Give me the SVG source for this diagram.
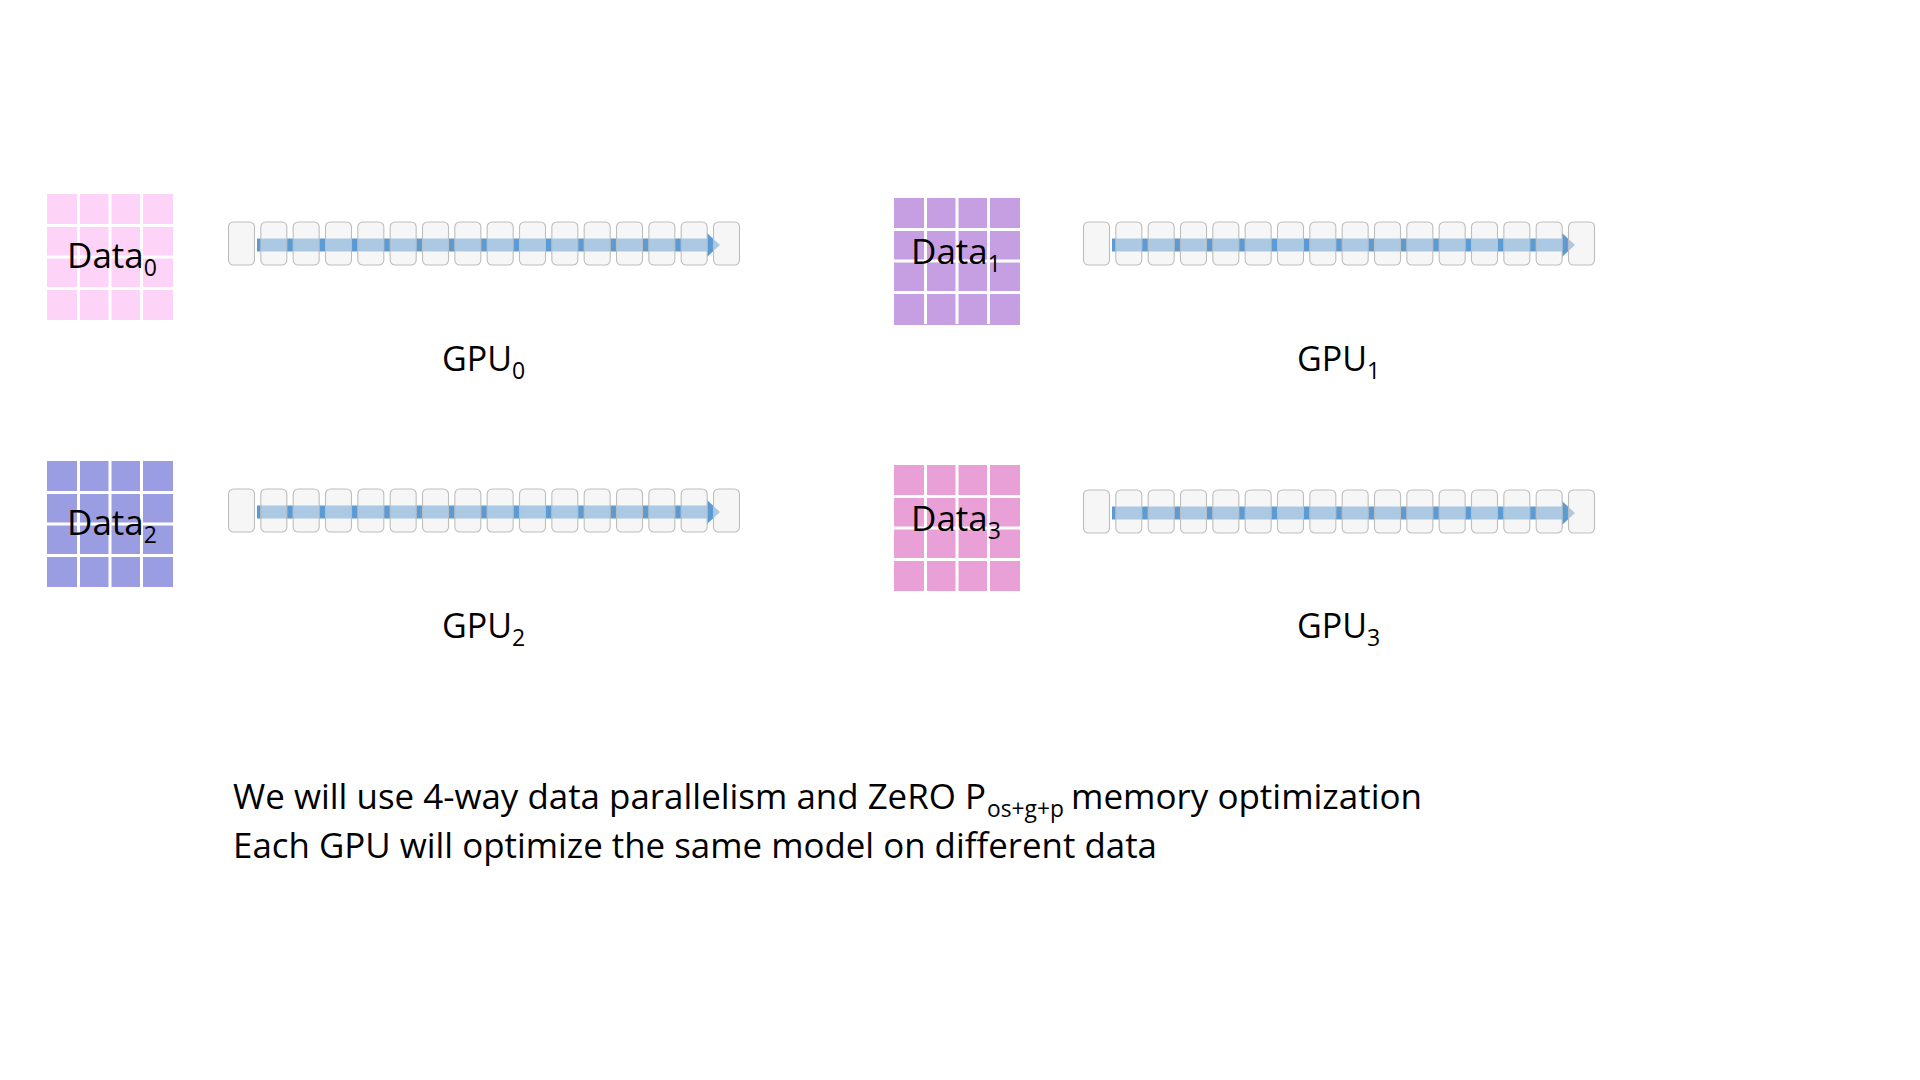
<svg xmlns="http://www.w3.org/2000/svg" xmlns:xlink="http://www.w3.org/1999/xlink" width="1920" height="1080" viewBox="0 0 1920 1080">
<style>
  .lbl { font-family: "Open Sans", "Liberation Sans", sans-serif; fill: #000000; }
  .box { fill: #EFEFEF; fill-opacity: 0.55; stroke: #BDBDBD; stroke-width: 1.1; }
  .arrow { fill: #5B9BD5; }
  .gl { stroke: #FFFFFF; stroke-width: 3; }
</style>
<defs>
  <g id="boxrow">
    <rect class="box" x="0.5" y="0" width="26" height="43" rx="5"/>
    <rect class="box" x="32.83" y="0" width="26" height="43" rx="5"/>
    <rect class="box" x="65.17" y="0" width="26" height="43" rx="5"/>
    <rect class="box" x="97.5" y="0" width="26" height="43" rx="5"/>
    <rect class="box" x="129.83" y="0" width="26" height="43" rx="5"/>
    <rect class="box" x="162.17" y="0" width="26" height="43" rx="5"/>
    <rect class="box" x="194.5" y="0" width="26" height="43" rx="5"/>
    <rect class="box" x="226.83" y="0" width="26" height="43" rx="5"/>
    <rect class="box" x="259.17" y="0" width="26" height="43" rx="5"/>
    <rect class="box" x="291.5" y="0" width="26" height="43" rx="5"/>
    <rect class="box" x="323.83" y="0" width="26" height="43" rx="5"/>
    <rect class="box" x="356.17" y="0" width="26" height="43" rx="5"/>
    <rect class="box" x="388.5" y="0" width="26" height="43" rx="5"/>
    <rect class="box" x="420.83" y="0" width="26" height="43" rx="5"/>
    <rect class="box" x="453.17" y="0" width="26" height="43" rx="5"/>
    <rect class="box" x="485.5" y="0" width="26" height="43" rx="5"/>
  </g>
  <g id="gridlines">
    <line class="gl" x1="31.5" y1="0" x2="31.5" y2="126"/>
    <line class="gl" x1="63" y1="0" x2="63" y2="126"/>
    <line class="gl" x1="94.5" y1="0" x2="94.5" y2="126"/>
    <line class="gl" x1="0" y1="31.5" x2="126" y2="31.5"/>
    <line class="gl" x1="0" y1="63" x2="126" y2="63"/>
    <line class="gl" x1="0" y1="94.5" x2="126" y2="94.5"/>
  </g>
  <polygon id="arrowshape" class="arrow" points="29,16.5 479,16.5 479,11 492,23 479,35 479,29.5 29,29.5"/>
</defs>
<rect x="0" y="0" width="1920" height="1080" fill="#FFFFFF"/>

<g id="connectors">
  <use xlink:href="#arrowshape" href="#arrowshape" transform="translate(228,222)"/>
  <use xlink:href="#arrowshape" href="#arrowshape" transform="translate(1083,222)"/>
  <use xlink:href="#arrowshape" href="#arrowshape" transform="translate(228,489)"/>
  <use xlink:href="#arrowshape" href="#arrowshape" transform="translate(1083,490)"/>
</g>

<g id="data0">
  <rect x="47" y="194" width="126" height="126" fill="#FDD3F8"/>
  <use xlink:href="#gridlines" href="#gridlines" transform="translate(47,194)"/>
  <text class="lbl" x="67" y="268" font-size="35">Data<tspan font-size="23" dy="8">0</tspan></text>
</g>
<g id="data1">
  <rect x="894" y="198" width="126" height="127" fill="#C59FE2"/>
  <use xlink:href="#gridlines" href="#gridlines" transform="translate(894,198)"/>
  <text class="lbl" x="911" y="264" font-size="35">Data<tspan font-size="23" dy="8">1</tspan></text>
</g>
<g id="data2">
  <rect x="47" y="461" width="126" height="126" fill="#9B9DE3"/>
  <use xlink:href="#gridlines" href="#gridlines" transform="translate(47,461)"/>
  <text class="lbl" x="67" y="535" font-size="35">Data<tspan font-size="23" dy="8">2</tspan></text>
</g>
<g id="data3">
  <rect x="894" y="465" width="126" height="126" fill="#E8A0D6"/>
  <use xlink:href="#gridlines" href="#gridlines" transform="translate(894,465)"/>
  <text class="lbl" x="911" y="531" font-size="35">Data<tspan font-size="23" dy="8">3</tspan></text>
</g>

<g id="gpu0">
  <use xlink:href="#boxrow" href="#boxrow" transform="translate(228,222)"/>
  <text class="lbl" x="442" y="371" font-size="34">GPU<tspan font-size="23" dy="8">0</tspan></text>
</g>
<g id="gpu1">
  <use xlink:href="#boxrow" href="#boxrow" transform="translate(1083,222)"/>
  <text class="lbl" x="1297" y="371" font-size="34">GPU<tspan font-size="23" dy="8">1</tspan></text>
</g>
<g id="gpu2">
  <use xlink:href="#boxrow" href="#boxrow" transform="translate(228,489)"/>
  <text class="lbl" x="442" y="638" font-size="34">GPU<tspan font-size="23" dy="8">2</tspan></text>
</g>
<g id="gpu3">
  <use xlink:href="#boxrow" href="#boxrow" transform="translate(1083,490)"/>
  <text class="lbl" x="1297" y="638" font-size="34">GPU<tspan font-size="23" dy="8">3</tspan></text>
</g>

<g id="caption">
  <text class="lbl" x="233" y="809" font-size="35" textLength="753" lengthAdjust="spacingAndGlyphs">We will use 4-way data parallelism and ZeRO P</text>
  <text class="lbl" x="987" y="817" font-size="23" textLength="77" lengthAdjust="spacingAndGlyphs">os+g+p</text>
  <text class="lbl" x="1071" y="809" font-size="35" textLength="351" lengthAdjust="spacingAndGlyphs">memory optimization</text>
  <text class="lbl" x="233" y="858" font-size="35" textLength="924" lengthAdjust="spacingAndGlyphs">Each GPU will optimize the same model on different data</text>
</g>
</svg>
